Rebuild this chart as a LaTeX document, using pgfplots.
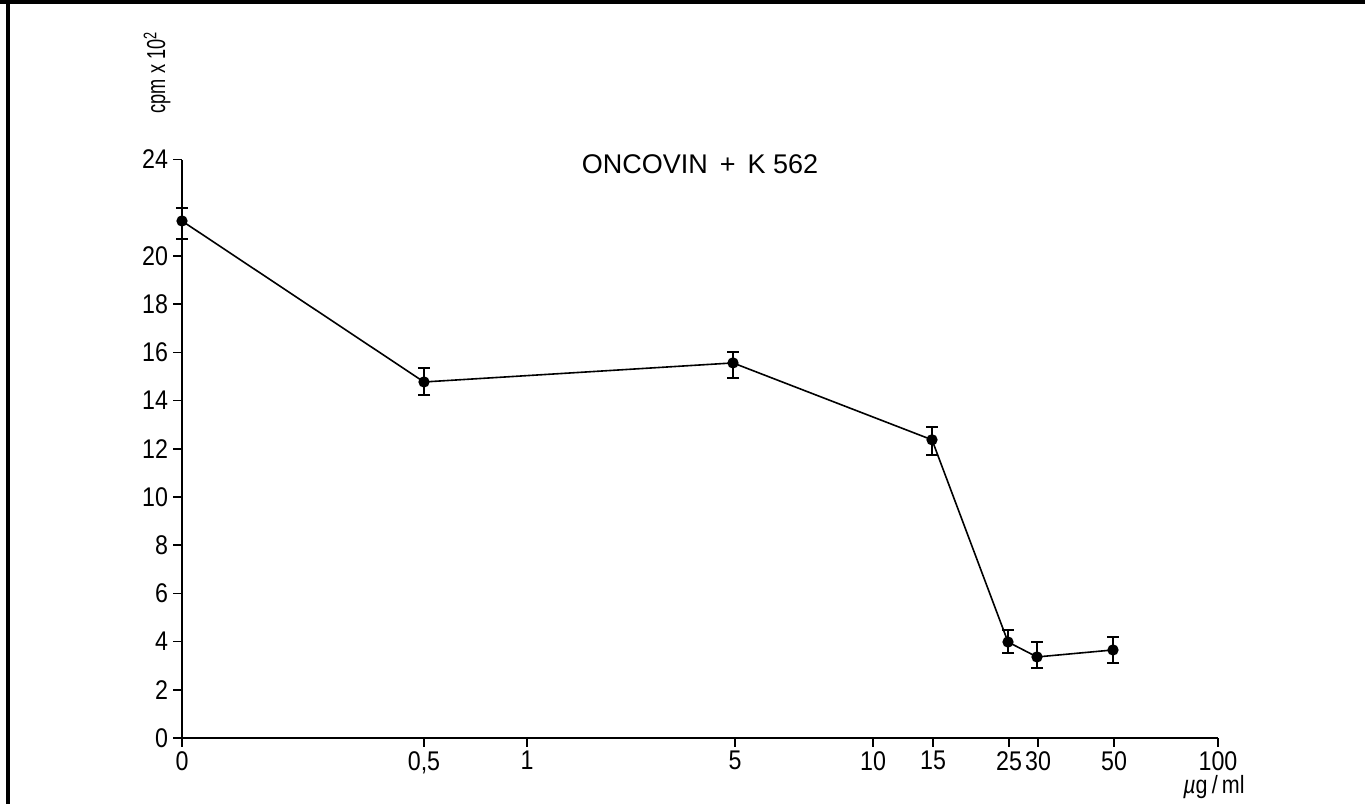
\documentclass[border=0pt]{standalone}
\usepackage{pgfplots}
\pgfplotsset{compat=1.18}
\usepackage{pgfplotstable}
\usepackage{fontspec}
\setmainfont{Liberation Sans}
\newfontfamily\condfont[FakeStretch=0.86]{Liberation Sans}
\newfontfamily\ylabfont[FakeStretch=0.7]{Liberation Sans}
\pgfplotstableread{
x y ep em
0 21.45 0.55 0.75
242 14.77 0.58 0.54
551 15.56 0.45 0.62
750 12.37 0.53 0.63
826 3.98 0.50 0.45
855 3.36 0.62 0.46
931 3.65 0.54 0.54
}\datatab
\begin{document}
\begin{tikzpicture}
\begin{axis}[
  x=0.5pt, y=12.05pt,
  xmin=0, xmax=1036, ymin=0, ymax=24,
  axis x line=bottom, axis y line=left,
  axis line style={-, line width=1.3pt},
  xtick={0,242,345,553,691,751,827,856,932,1036},
  xticklabels={0,{0,5},1,5,10,15,25,30,50,100},
  ytick={0,2,4,6,8,10,12,14,16,18,20,24},
  tick align=outside, major tick length=4.5pt,
  tick style={black, line width=0.8pt},
  /pgf/number format/assume math mode=true,
  tick label style={font=\condfont\fontsize{13.5}{15}\selectfont},
  yticklabel style={xshift=1pt},
  xticklabel style={inner sep=1pt, yshift=-1pt},
  clip=false,
]
\addplot[black, line width=0.8pt, mark=*, mark size=2.4pt,
  error bars/.cd, y dir=both, y explicit,
  error bar style={line width=0.8pt},
  error mark options={rotate=90, mark size=3pt, line width=0.9pt}]
  table[x=x, y=y, y error plus=ep, y error minus=em] {\datatab};
\node[font=\fontsize{13.5}{15}\selectfont] at (axis cs:518,23.8) {ONCOVIN\, +\, K 562};
\node[rotate=90, anchor=west, inner sep=0pt, font=\ylabfont\fontsize{13}{15}\selectfont] at (axis cs:-25,25.9) {cpm x 10\textsuperscript{2}};
\node[inner sep=0pt, font=\condfont\fontsize{12.5}{14}\selectfont] at (axis cs:1032,-2.02) {{\itshape µ}g\,/\,ml};
\coordinate (bl) at (axis cs:-182,-2.739);
\coordinate (tr) at (axis cs:1183,30.62);
\coordinate (tl) at (axis cs:-182,30.62);
\end{axis}
\pgfresetboundingbox
\path[use as bounding box] (bl) rectangle (tr);
\draw[line width=2.2pt] ([yshift=-1.1pt]tl) -- ([yshift=-1.1pt]tl -| tr);
\draw[line width=1.8pt] ([xshift=4pt]tl) -- ([xshift=4pt]tl |- bl);
\end{tikzpicture}
\end{document}
